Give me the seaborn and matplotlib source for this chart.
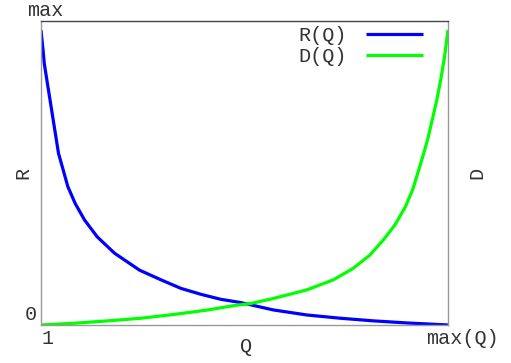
import matplotlib
matplotlib.use("Agg")
import matplotlib.pyplot as plt
import seaborn as sns
import pandas as pd

# Data (Q normalised 0..1, value normalised 0..max=1)
r_q = [0.0, 0.005, 0.008, 0.017, 0.030, 0.043, 0.066, 0.084, 0.107, 0.138,
       0.181, 0.242, 0.295, 0.344, 0.393, 0.442, 0.491, 0.571, 0.653, 0.735,
       0.817, 0.899, 1.0]
r_val = [1.0, 0.932, 0.887, 0.808, 0.695, 0.582, 0.469, 0.412, 0.356, 0.299,
         0.243, 0.186, 0.153, 0.124, 0.104, 0.087, 0.076, 0.051, 0.034, 0.023,
         0.014, 0.007, 0.0]

d_q = [0.0, 0.082, 0.164, 0.246, 0.328, 0.410, 0.475, 0.516, 0.571, 0.653,
       0.718, 0.767, 0.808, 0.841, 0.870, 0.895, 0.913, 0.928, 0.941, 0.952,
       0.962, 0.972, 0.982, 0.991, 1.0]
d_val = [0.0, 0.006, 0.014, 0.023, 0.036, 0.051, 0.066, 0.073, 0.090, 0.119,
         0.153, 0.192, 0.237, 0.288, 0.340, 0.400, 0.458, 0.525, 0.585, 0.640,
         0.700, 0.760, 0.830, 0.905, 1.0]

series_names = ["R(Q)", "D(Q)"]
series_colors = ["#0000ff", "#00ff00"]

sns.set_style("white")
plt.rcParams['font.family'] = ['Liberation Mono', 'DejaVu Sans']

W, H = 511, 363
fig = plt.figure(figsize=(W / 100, H / 100), dpi=100)
ax = fig.add_axes([41 / W, (H - 325) / H, 407 / W, 304 / H])

df_r = pd.DataFrame({"Q": r_q, "v": r_val})
df_d = pd.DataFrame({"Q": d_q, "v": d_val})
sns.lineplot(data=df_r, x="Q", y="v", ax=ax, color=series_colors[0], lw=2.3,
             label=series_names[0], estimator=None, sort=False,
             solid_joinstyle="round", solid_capstyle="butt")
sns.lineplot(data=df_d, x="Q", y="v", ax=ax, color=series_colors[1], lw=2.3,
             label=series_names[1], estimator=None, sort=False,
             solid_joinstyle="round", solid_capstyle="butt")

ax.set_xlim(0, 1)
ax.set_ylim(0, 1.0305)
ax.set_xticks([])
ax.set_yticks([])
ax.set_xlabel("")
ax.set_ylabel("")
for side in ["left", "right", "bottom"]:
    ax.spines[side].set_color("#999999")
    ax.spines[side].set_linewidth(1.0)
ax.spines["top"].set_color("#444444")
ax.spines["top"].set_linewidth(1.0)

fs = 14.5
tcol = "#333333"

def ftext(x, y, s, **kw):
    fig.text(x / W, 1 - y / H, s, fontsize=fs, color=tcol, ha="center", va="center", **kw)

ftext(45, 11, "max")
ftext(31, 315, "0")
ftext(48, 339, "1")
ftext(462, 339, "max(Q)")
ftext(246, 347, "Q")
ftext(23, 173, "R", rotation=90)
ftext(477, 173, "D", rotation=90)

leg = ax.legend(loc="upper right", bbox_to_anchor=(423 / W, 1 - 26 / H),
                bbox_transform=fig.transFigure, frameon=False, markerfirst=False,
                fontsize=fs, handlelength=2.85, handletextpad=0.95,
                labelspacing=0.1, borderpad=0, borderaxespad=0)
for t in leg.get_texts():
    t.set_color(tcol)

fig.savefig("out.png", dpi=100)
